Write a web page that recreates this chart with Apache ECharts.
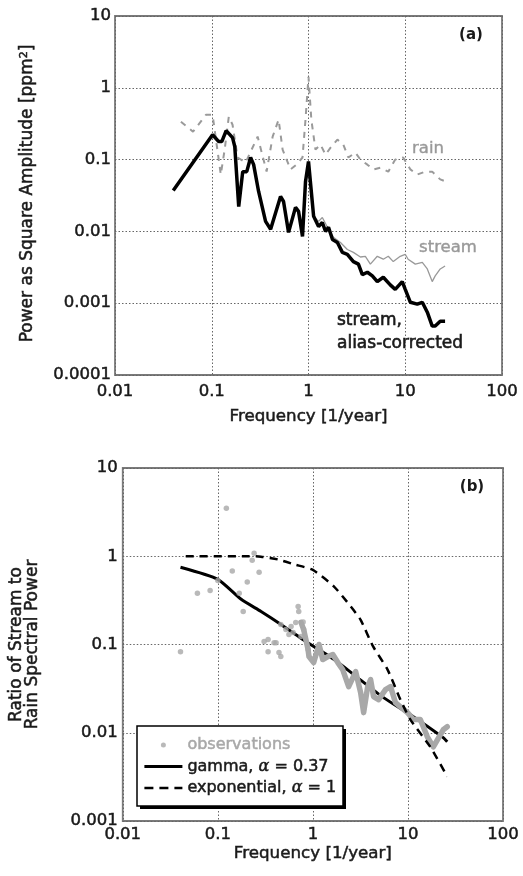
<!DOCTYPE html>
<html><head><meta charset="utf-8">
<script src="https://cdn.jsdelivr.net/npm/echarts@6/dist/echarts.min.js"></script>
<style>html,body{margin:0;padding:0;background:#fff}#c{width:523px;height:876px}</style>
</head><body><div id="c"></div>
<script>
const FONT = '"DejaVu Sans", sans-serif';

// ---------- Panel (a): power spectra ----------
const rainFreq = [0.048, 0.064, 0.087, 0.102, 0.124, 0.136, 0.150, 0.164, 0.185, 0.224, 0.298, 0.369, 0.426, 0.491, 0.540, 0.652, 0.752, 0.867, 0.931, 1.0, 1.07, 1.18, 1.33, 1.50, 1.69, 1.99, 2.29, 2.58, 3.05, 3.44, 4.06, 4.68, 5.52, 6.68, 7.88, 9.53, 11.3, 13.3, 16.1, 19.0, 23.0, 25.8];
const rainPower = [0.337, 0.245, 0.42, 0.42, 0.062, 0.138, 0.396, 0.306, 0.107, 0.091, 0.209, 0.068, 0.209, 0.36, 0.138, 0.073, 0.085, 0.107, 0.36, 1.42, 0.36, 0.138, 0.162, 0.117, 0.147, 0.19, 0.162, 0.107, 0.125, 0.1, 0.085, 0.073, 0.077, 0.068, 0.1, 0.107, 0.073, 0.062, 0.068, 0.068, 0.053, 0.05];

const streamFreq = [1.0, 1.13, 1.27, 1.39, 1.57, 1.81, 2.14, 2.52, 2.91, 3.44, 3.87, 4.36, 5.14, 5.93, 6.68, 7.52, 8.88, 10.0, 10.7, 12.7, 15.0, 16.9, 19.0, 20.4, 23.0, 25.8];
const streamPower = [0.094, 0.0162, 0.0138, 0.0156, 0.0114, 0.0083, 0.0070, 0.0056, 0.0051, 0.0044, 0.0045, 0.0035, 0.0045, 0.0041, 0.0045, 0.0038, 0.0045, 0.0048, 0.0041, 0.0035, 0.0037, 0.0030, 0.0020, 0.0024, 0.0030, 0.0033];

const corrFreq = [0.04, 0.102, 0.118, 0.127, 0.141, 0.164, 0.173, 0.19, 0.209, 0.23, 0.252, 0.271, 0.305, 0.36, 0.406, 0.514, 0.552, 0.622, 0.734, 0.789, 0.867, 0.931, 1.0, 1.13, 1.27, 1.39, 1.5, 1.61, 1.77, 1.99, 2.24, 2.52, 2.91, 3.28, 3.6, 4.06, 4.57, 5.14, 5.93, 7.0, 7.88, 9.31, 10.0, 11.3, 13.3, 15.0, 16.9, 19.0, 20.4, 23.0, 25.8];
const corrPower = [0.037, 0.222, 0.178, 0.178, 0.253, 0.202, 0.152, 0.0222, 0.068, 0.068, 0.107, 0.085, 0.036, 0.0138, 0.0107, 0.0306, 0.0261, 0.0097, 0.0216, 0.019, 0.0085, 0.049, 0.094, 0.0162, 0.0117, 0.0133, 0.0100, 0.0114, 0.0077, 0.0070, 0.0051, 0.0048, 0.0038, 0.0035, 0.0025, 0.0027, 0.0024, 0.0020, 0.0023, 0.0018, 0.00156, 0.0020, 0.00156, 0.00103, 0.00097, 0.00103, 0.00075, 0.00048, 0.00048, 0.00056, 0.00056];

// ---------- Panel (b): stream / rain power ratio ----------
const obsFreq = [0.0405, 0.061, 0.083, 0.1, 0.123, 0.142, 0.168, 0.185, 0.204, 0.23, 0.241, 0.272, 0.307, 0.338, 0.338, 0.391, 0.41, 0.44, 0.46, 0.46, 0.52, 0.56, 0.59, 0.62, 0.66, 0.70, 0.71, 0.75, 0.79, 0.80, 0.89];
const obsRatio = [0.083, 0.38, 0.41, 0.53, 3.5, 0.68, 0.38, 0.237, 0.51, 0.90, 1.08, 0.66, 0.108, 0.114, 0.083, 0.105, 0.105, 0.081, 0.073, 0.169, 0.148, 0.130, 0.160, 0.137, 0.178, 0.27, 0.237, 0.123, 0.18, 0.148, 0.088];

const obsDenseFreq = [0.75, 0.80, 0.89, 0.91, 1.02, 1.16, 1.27, 1.44, 1.62, 1.83, 2.06, 2.38, 2.82, 3.18, 3.42, 3.77, 4.05, 4.35, 4.91, 5.81, 6.56, 7.4, 8.34, 9.9, 11.4, 13.5, 16.0, 18.5, 20.4, 23.5, 25.9];
const obsDenseRatio = [0.178, 0.148, 0.088, 0.073, 0.0624, 0.100, 0.0676, 0.073, 0.077, 0.0624, 0.052, 0.0333, 0.0493, 0.0285, 0.0169, 0.0333, 0.040, 0.0257, 0.0237, 0.0308, 0.0333, 0.0219, 0.0197, 0.0169, 0.0141, 0.0141, 0.0090, 0.0069, 0.0083, 0.0108, 0.0117];

const gammaFreq = [0.0405, 0.1, 0.176, 0.285, 0.462, 0.749, 1.07, 1.66, 2.69, 5.54, 11.4, 23.5, 25.9];
const gammaRatio = [0.75, 0.548, 0.325, 0.237, 0.169, 0.118, 0.092, 0.068, 0.0456, 0.025, 0.0152, 0.0088, 0.0079];

const expFreq = [0.046, 0.214, 0.285, 0.43, 0.632, 1.0, 1.66, 2.5, 3.18, 4.3, 6.1, 8.34, 10.6, 17.2, 25.9];
const expRatio = [1.0, 1.0, 0.99, 0.92, 0.81, 0.70, 0.456, 0.27, 0.19, 0.095, 0.052, 0.0237, 0.0141, 0.0069, 0.0032];

// ---------- Tick labels ----------
const xTickLabels = ['0.01', '0.1', '1', '10', '100'];
const yTickLabelsA = ['0.0001', '0.001', '0.01', '0.1', '1', '10'];
const yTickLabelsB = ['0.001', '0.01', '0.1', '1', '10'];

const zip = (xs, ys) => xs.map((x, i) => [x, ys[i]]);
const tickFmt = labels => v => {
  const hit = labels.find(l => Math.abs(Math.log10(Number(l)) - Math.log10(v)) < 1e-6);
  return hit || '';
};

const INK = '#1a1a1a';
const heavy = { textBorderColor: INK, textBorderWidth: 0.5 };
const gridLine = { show: true, lineStyle: { color: '#666', type: [1.5, 2], width: 1 } };
const axisLbl = (labels, margin) => Object.assign({ fontFamily: FONT, fontSize: 16.5, color: INK, margin: margin, formatter: tickFmt(labels) }, heavy);
const nameStyle = extra => Object.assign({ fontFamily: FONT, fontSize: 16.7, color: INK }, heavy, extra || {});

const chart = echarts.init(document.getElementById('c'), null, { renderer: 'canvas' });
chart.setOption({
  animation: false,
  backgroundColor: '#fff',
  grid: [
    { left: 115, top: 16, width: 387, height: 359, show: true, borderColor: '#7a7a7a', borderWidth: 1.8, backgroundColor: 'transparent' },
    { left: 121, top: 468, width: 382, height: 353, show: true, borderColor: '#7a7a7a', borderWidth: 1.8, backgroundColor: 'transparent' }
  ],
  xAxis: [
    { type: 'log', logBase: 10, gridIndex: 0, min: 0.01, max: 100,
      axisLine: { show: false }, axisTick: { show: false }, splitLine: gridLine,
      axisLabel: axisLbl(xTickLabels, 8),
      name: 'Frequency [1/year]', nameLocation: 'middle', nameGap: 33, nameTextStyle: nameStyle() },
    { type: 'log', logBase: 10, gridIndex: 1, min: 0.01, max: 100,
      axisLine: { show: false }, axisTick: { show: false }, splitLine: gridLine,
      axisLabel: axisLbl(xTickLabels, 5),
      name: 'Frequency [1/year]', nameLocation: 'middle', nameGap: 24, nameTextStyle: nameStyle() }
  ],
  yAxis: [
    { type: 'log', logBase: 10, gridIndex: 0, min: 0.0001, max: 10,
      axisLine: { show: false }, axisTick: { show: false }, splitLine: gridLine,
      axisLabel: axisLbl(yTickLabelsA, 4),
      name: '{n|Power as Square Amplitude [ppm}{s|2}{n|]}', nameLocation: 'middle', nameGap: 79,
      nameTextStyle: nameStyle({ fontSize: 17, padding: [0, 0, 0, 4],
        rich: { n: Object.assign({ fontFamily: FONT, fontSize: 17, color: INK }, heavy),
                s: Object.assign({ fontFamily: FONT, fontSize: 11, color: INK, verticalAlign: 'top', padding: [0, 0, 6, 0] }, heavy) } }) },
    { type: 'log', logBase: 10, gridIndex: 1, min: 0.001, max: 10,
      axisLine: { show: false }, axisTick: { show: false }, splitLine: gridLine,
      axisLabel: axisLbl(yTickLabelsB, 5),
      name: 'Ratio of Stream to\nRain Spectral Power', nameLocation: 'middle', nameGap: 82,
      nameTextStyle: nameStyle({ fontSize: 17, lineHeight: 16 }) }
  ],
  legend: {
    left: 137, top: 726, orient: 'vertical', selectedMode: false, z: 12,
    data: [
      { name: 'observations', icon: 'path://M0,0M14,14M4.5,7a2.5,2.5 0 1,0 5,0a2.5,2.5 0 1,0 -5,0Z', textStyle: { color: '#a8a8a8', textBorderColor: '#a8a8a8' } },
      { name: 'gamma', itemStyle: { opacity: 0 }, lineStyle: { width: 2.8 } },
      { name: 'exponential', itemStyle: { opacity: 0 }, lineStyle: { width: 2.3, type: [9, 6] } }
    ],
    itemWidth: 38, itemHeight: 14, itemGap: 3.5,
    padding: [10, 6, 9, 6],
    textStyle: Object.assign({ fontFamily: FONT, fontSize: 16, color: INK, lineHeight: 18,
      rich: { g: { fontFamily: '"DejaVu Serif", serif', fontStyle: 'italic', fontSize: 16 } } }, heavy),
    formatter: name => ({ observations: 'observations', gamma: 'gamma, {g|α} = 0.37', exponential: 'exponential, {g|α} = 1' })[name]
  },
  series: [
    { name: 'rain', type: 'line', xAxisIndex: 0, yAxisIndex: 0, data: zip(rainFreq, rainPower), symbol: 'none',
      lineStyle: { color: '#9a9a9a', width: 2, type: [6, 6] }, z: 2 },
    { name: 'stream', type: 'line', xAxisIndex: 0, yAxisIndex: 0, data: zip(streamFreq, streamPower), symbol: 'none',
      lineStyle: { color: '#999', width: 1.3 }, z: 3 },
    { name: 'stream, alias-corrected', type: 'line', xAxisIndex: 0, yAxisIndex: 0, data: zip(corrFreq, corrPower), symbol: 'none',
      lineStyle: { color: '#000', width: 3.5 }, z: 4 },

    { name: 'gamma', type: 'line', xAxisIndex: 1, yAxisIndex: 1, data: zip(gammaFreq, gammaRatio), symbol: 'none', smooth: 0.2,
      itemStyle: { color: '#000' }, lineStyle: { color: '#000', width: 3 }, z: 2 },
    { name: 'observations', type: 'scatter', xAxisIndex: 1, yAxisIndex: 1, data: zip(obsFreq, obsRatio), symbolSize: 5.5,
      itemStyle: { color: '#a8a8a8' }, z: 3 },
    { name: 'observations', type: 'line', xAxisIndex: 1, yAxisIndex: 1, data: zip(obsDenseFreq, obsDenseRatio), symbol: 'none',
      itemStyle: { color: '#a8a8a8' }, lineStyle: { color: '#a8a8a8', width: 5.5, join: 'round', cap: 'round' }, z: 3 },
    { name: 'exponential', type: 'line', xAxisIndex: 1, yAxisIndex: 1, data: zip(expFreq, expRatio), symbol: 'none', smooth: 0.2,
      itemStyle: { color: '#000' }, lineStyle: { color: '#000', width: 2.5, type: [8, 6] }, z: 4 }
  ],
  graphic: [
    // legend frame with drop shadow
    { type: 'rect', z: 10, shape: { x: 140, y: 729, width: 206, height: 80 }, style: { fill: '#000' } },
    { type: 'rect', z: 11, shape: { x: 137, y: 726, width: 206, height: 80 }, style: { fill: '#fff', stroke: '#000', lineWidth: 1.5 } },
    { type: 'text', x: 471, y: 35, style: { text: '(a)', fill: INK, font: 'bold 15px "DejaVu Sans"', align: 'center', verticalAlign: 'middle', textAlign: 'center', textVerticalAlign: 'middle' } },
    { type: 'text', x: 472, y: 487, style: { text: '(b)', fill: INK, font: 'bold 15px "DejaVu Sans"', align: 'center', verticalAlign: 'middle', textAlign: 'center', textVerticalAlign: 'middle' } },
    { type: 'text', x: 428, y: 149, style: { text: 'rain', fill: '#999', stroke: '#999', lineWidth: 0.4, font: '16.5px "DejaVu Sans"', align: 'center', verticalAlign: 'middle', textAlign: 'center', textVerticalAlign: 'middle' } },
    { type: 'text', x: 448, y: 248, style: { text: 'stream', fill: '#999', stroke: '#999', lineWidth: 0.4, font: '16.5px "DejaVu Sans"', align: 'center', verticalAlign: 'middle', textAlign: 'center', textVerticalAlign: 'middle' } },
    { type: 'text', x: 337, y: 321, style: { text: 'stream,', fill: INK, stroke: INK, lineWidth: 0.6, font: '17px "DejaVu Sans"', align: 'left', verticalAlign: 'middle', textAlign: 'left', textVerticalAlign: 'middle' } },
    { type: 'text', x: 337, y: 344, style: { text: 'alias-corrected', fill: INK, stroke: INK, lineWidth: 0.6, font: '17px "DejaVu Sans"', align: 'left', verticalAlign: 'middle', textAlign: 'left', textVerticalAlign: 'middle' } }
  ]
});
</script>
</body></html>
